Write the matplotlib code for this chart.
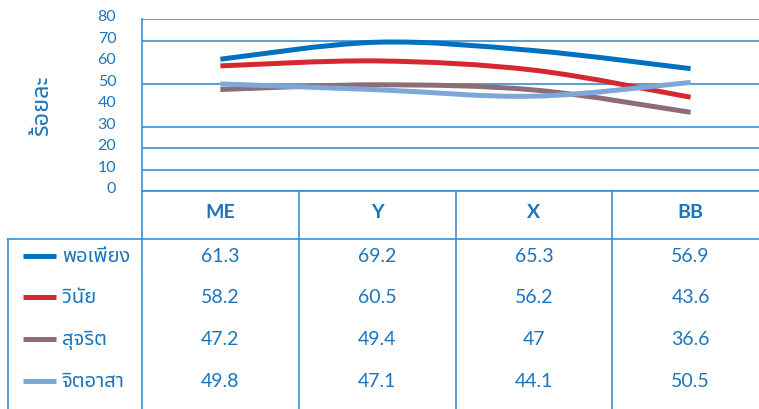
import numpy as np
import matplotlib
matplotlib.use("Agg")
import matplotlib.pyplot as plt
from matplotlib.path import Path
from matplotlib.patches import PathPatch
from matplotlib import transforms

# data
categories = ["ME", "Y", "X", "BB"]
series_names = ["พอเพียง", "วินัย", "สุจริต", "จิตอาสา"]
pophiang = [61.3, 69.2, 65.3, 56.9]
winai = [58.2, 60.5, 56.2, 43.6]
sujarit = [47.2, 49.4, 47, 36.6]
jitarsa = [49.8, 47.1, 44.1, 50.5]
y_ticks = [0, 10, 20, 30, 40, 50, 60, 70, 80]
grid_values = [0, 10, 20, 30, 50, 70, 80]

series = [pophiang, winai, sujarit, jitarsa]
colors = ["#0070C0", "#D7282F", "#8C6D77", "#7DA7D9"]
text_col = "#1C75BC"
line_col = "#3C8DD0"

plt.rcParams["font.family"] = ["Lato", "Noto Sans Thai", "Loma", "Garuda", "DejaVu Sans"]


def smooth_path(xs, ys):
    # catmull-rom style smooth line like the office charts
    pts = np.column_stack([xs, ys]).astype(float)
    ext = np.vstack([pts[0], pts, pts[-1]])
    verts = [pts[0]]
    codes = [Path.MOVETO]
    for i in range(len(pts) - 1):
        p0, p1, p2, p3 = ext[i], ext[i + 1], ext[i + 2], ext[i + 3]
        verts += [p1 + (p2 - p0) / 6, p2 - (p3 - p1) / 6, p2]
        codes += [Path.CURVE4] * 3
    return Path(verts, codes)


W, H = 759, 410
fig = plt.figure(figsize=(W / 100, H / 100), dpi=100)

col_w = 156.75     # px per category column
leg_w = 134        # px of the legend column
x_pos = np.arange(len(categories))

# ---- line chart
ax = fig.add_axes([142 / W, (H - 192) / H, 4 * col_w / W, 172 / H])
ax.set_xlim(-0.5, len(categories) - 0.5)
ax.set_ylim(0, 80)
for v in grid_values:
    ax.axhline(v, color=line_col, lw=1.2, zorder=1)
for vals, c in zip(series, colors):
    ax.add_patch(PathPatch(smooth_path(x_pos, vals), fill=False, edgecolor=c,
                           lw=3.6, capstyle="butt", zorder=3))
for s in ["top", "right", "bottom"]:
    ax.spines[s].set_visible(False)
ax.spines["left"].set_color(line_col)
ax.spines["left"].set_linewidth(1.2)
ax.set_xticks([])
ax.set_yticks(y_ticks)
ax.tick_params(axis="y", length=0, pad=18.5, labelsize=11.5, labelcolor=text_col)
up = transforms.ScaledTranslation(0, 0.04, fig.dpi_scale_trans)
for lab in ax.get_yticklabels():
    lab.set_transform(lab.get_transform() + up)

fig.text(41 / W, 1 - 106 / H, "ร้อยละ", rotation=90, ha="center", va="center",
         fontsize=17, fontweight="bold", color=text_col)

# ---- data table below
ax_t = fig.add_axes([8 / W, 0, (leg_w + 4 * col_w) / W, 218 / H])
x0 = -0.5 - leg_w / col_w
ax_t.set_xlim(x0, len(categories) - 0.5)
ax_t.set_ylim(218, 0)
ax_t.axis("off")


def px(xp):
    return x0 + (xp - 8) / col_w


kw = dict(color=line_col, lw=1.2, clip_on=False)
ax_t.plot([-0.5, 3.5], [0, 0], **kw)
ax_t.plot([x0, 3.5], [48, 48], **kw)
ax_t.plot([x0, x0], [48, 218], **kw)
for e in np.arange(len(categories)) - 0.5:
    ax_t.plot([e, e], [0, 218], **kw)

for i, cat in enumerate(categories):
    ax_t.text(i, 21, cat, ha="center", va="center", fontsize=14,
              fontweight="bold", color=text_col)

row_y = [65, 106, 148, 190]
for name, vals, c, ry in zip(series_names, series, colors, row_y):
    ax_t.plot([px(23), px(56)], [ry, ry], color=c, lw=3.6, solid_capstyle="butt")
    ax_t.text(px(62), ry, name, ha="left", va="center", fontsize=14.5, color=text_col)
    for i, v in enumerate(vals):
        ax_t.text(i, ry, f"{v:g}", ha="center", va="center", fontsize=14,
                  color=text_col)

fig.savefig("out.png", dpi=100)
